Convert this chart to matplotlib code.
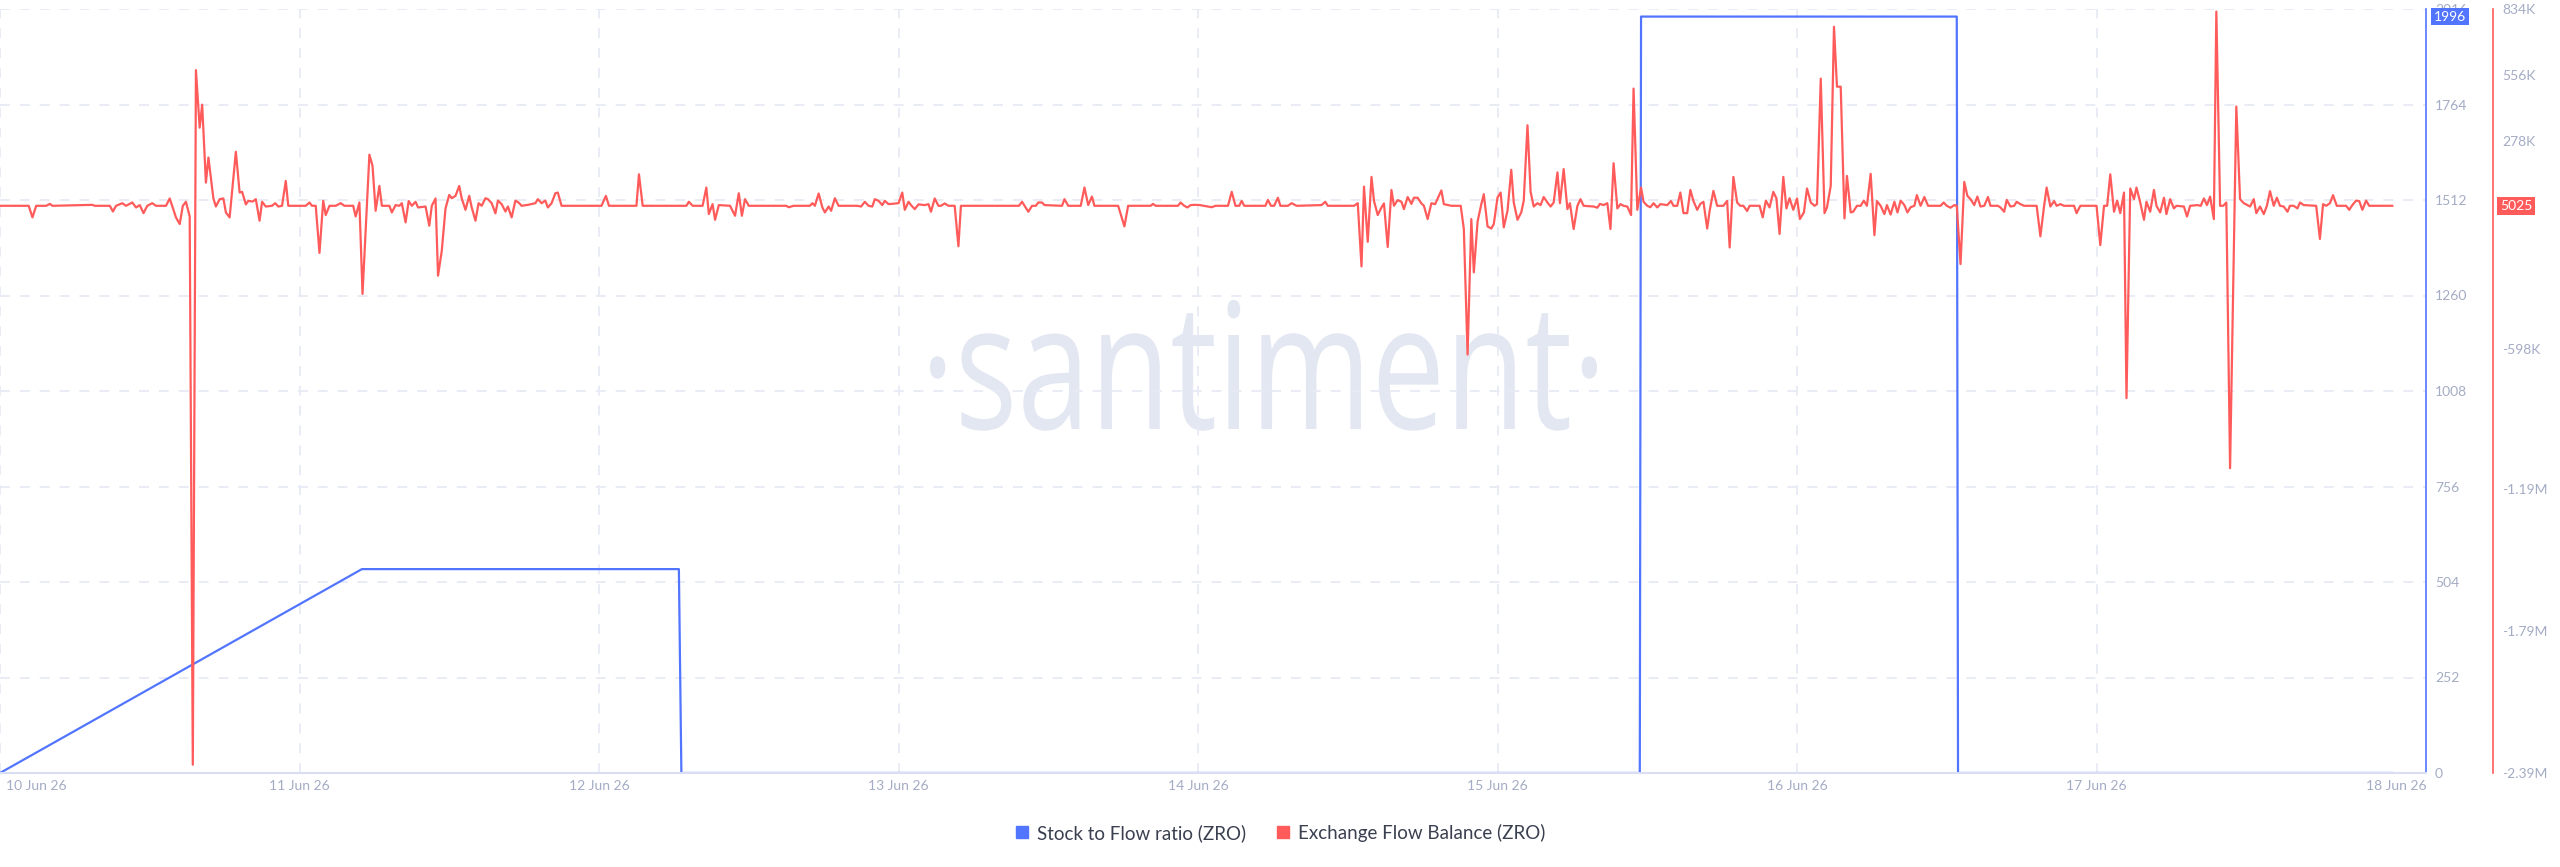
import matplotlib
matplotlib.use("Agg")
import matplotlib.pyplot as plt
from matplotlib.lines import Line2D
from matplotlib.patches import PathPatch
from matplotlib.textpath import TextPath
from matplotlib.font_manager import FontProperties
from matplotlib.transforms import Affine2D, ScaledTranslation, offset_copy

# --- data (x in hours after 10 Jun 26 00:00) ---
day_labels = ['10 Jun 26', '11 Jun 26', '12 Jun 26', '13 Jun 26', '14 Jun 26',
              '15 Jun 26', '16 Jun 26', '17 Jun 26', '18 Jun 26']

blue_ticks = [0, 252, 504, 756, 1008, 1260, 1512, 1764, 2016]
red_ticks = [834, 556, 278, -598, -1190, -1790, -2390]          # thousands
red_tick_labels = ['834K', '556K', '278K', '-598K', '-1.19M', '-1.79M', '-2.39M']

# Stock to Flow ratio (ZRO)
sf_hours = [0, 29.0, 54.4, 54.6, 131.4, 131.5, 156.8, 156.9, 191.7]
sf_values = [0, 538, 538, 0, 0, 1996, 1996, 0, 0]
sf_last = 1996

# Exchange Flow Balance (ZRO), thousands
efb_points = [
    (0.0, 5), (2.3, 5), (2.6, -44), (2.9, 5), (3.7, 5), (4.0, 13), (4.2, 5), (7.4, 9), (7.6, 5),
    (8.8, 5), (9.05, -19), (9.3, 5), (9.8, 16), (10.1, 5), (10.6, 19), (10.9, -2), (11.2, 8),
    (11.5, -26), (11.8, 5), (12.2, 16), (12.5, 5), (13.3, 5), (13.6, 36), (14.1, -44), (14.4, -72),
    (14.65, 5), (14.9, 22), (15.2, -40), (15.45, -2355), (15.7, 578), (16.0, 335), (16.2, 432),
    (16.5, 103), (16.7, 209), (17.1, 36), (17.3, 2), (17.6, 33), (17.9, 36), (18.1, -23), (18.4, -44),
    (18.9, 233), (19.2, 61), (19.4, 64), (19.7, 11), (19.9, 26), (20.25, 23), (20.5, 33), (20.8, -58),
    (21.0, 22), (21.3, 2), (21.8, 5), (22.05, 16), (22.3, 2), (22.6, 5), (22.9, 110), (23.1, 5),
    (24.5, 5), (24.8, 19), (25.0, 5), (25.3, 5), (25.6, -194), (25.9, 26), (26.1, -34), (26.4, 5),
    (26.9, 5), (27.3, 16), (27.6, 5), (28.3, 5), (28.5, -40), (28.8, 19), (29.05, -367), (29.6, 221),
    (29.85, 174), (30.1, -16), (30.4, 89), (30.6, 5), (31.2, 5), (31.4, -23), (31.7, 8), (32.0, 5),
    (32.2, 16), (32.5, -65), (32.75, 25), (33.0, 5), (33.3, 22), (33.5, -2), (34.1, 2), (34.4, -79),
    (34.6, 5), (34.9, 36), (35.1, -290), (35.4, -185), (35.7, -6), (36.0, 51), (36.2, 37), (36.5, 47),
    (36.8, 89), (37.0, 36), (37.3, -12), (37.6, 47), (37.8, -2), (38.1, -58), (38.35, 16), (38.6, 5),
    (38.9, 37), (39.1, 33), (39.4, 16), (39.7, -27), (39.9, 27), (40.2, 12), (40.5, -19), (40.7, 2),
    (41.0, -44), (41.3, 27), (41.55, 19), (41.8, 5), (42.3, 9), (42.9, 16), (43.1, 33), (43.4, 16),
    (43.7, 27), (43.9, -2), (44.2, 16), (44.5, 58), (44.7, 61), (45.0, 5), (48.2, 5),
    (48.55, 47), (48.8, 5), (51.0, 5), (51.2, 138), (51.5, 5), (55.0, 5), (55.2, 22), (55.5, 5),
    (56.3, 5), (56.6, 82), (56.8, -30), (57.1, 12), (57.3, -54), (57.6, 8), (58.5, 5), (58.9, -37),
    (59.2, 58), (59.45, -37), (59.7, 33), (60.0, 5), (63.0, 5), (63.2, -1), (63.6, 5), (64.9, 5),
    (65.1, 16), (65.3, 5), (65.6, 57), (65.9, -2), (66.1, -23), (66.4, 2), (66.6, -16), (66.9, 37),
    (67.2, 5), (68.7, 5), (69.0, 2), (69.3, 22), (69.6, 5), (69.9, 2), (70.1, 33), (70.4, 26),
    (70.7, 8), (70.9, 26), (71.2, 12), (72.0, 16), (72.3, 61), (72.5, -12), (72.8, 22), (73.0, 8),
    (73.3, -9), (73.6, 11), (74.1, 8), (74.4, 12), (74.6, -20), (74.9, 36), (75.2, 5), (75.4, 5),
    (75.7, 15), (76.0, 5), (76.5, 5), (76.8, -166), (77.0, 5), (81.65, 5), (81.9, 22), (82.1, 5),
    (82.4, -20), (82.7, 5), (83.0, 5), (83.2, 19), (83.5, 19), (83.7, 8), (85.1, 5), (85.3, 33),
    (85.6, 5), (86.6, 5), (86.9, 82), (87.2, 8), (87.5, 44), (87.7, 5), (89.6, 5), (90.1, -82),
    (90.4, 5), (92.2, 5), (92.4, 13), (92.6, 5), (94.4, 5), (94.6, 19), (94.9, 5), (95.15, -2),
    (95.4, 8), (95.7, 9),
    (96.15, 8), (97.1, -1), (97.4, 5), (98.4, 5), (98.7, 64), (99.0, 5), (99.3, 5), (99.5, 26),
    (99.7, 5), (101.4, 5), (101.6, 30), (101.85, 5), (102.1, 5), (102.4, 39), (102.6, 5), (103.2, 5),
    (103.5, 16), (103.9, 5), (105.9, 8), (106.2, 22), (106.4, 5), (108.5, 5), (108.8, 16),
    (109.1, -251), (109.3, 86), (109.6, -147), (109.9, 127), (110.1, 26), (110.4, -34), (110.7, -2),
    (110.9, 15), (111.2, -169), (111.5, 72), (111.7, 5), (112.0, 29), (112.3, 22), (112.5, -9),
    (112.8, 42), (113.1, 13), (113.3, 39), (113.6, 39), (113.9, 15), (114.1, 5), (114.4, -51),
    (114.7, 16), (115.0, 12), (115.5, 70), (115.7, 12), (116.3, 5), (117.05, 5), (117.3, -93),
    (117.6, -623), (117.9, -51), (118.1, -276), (118.4, -62), (118.7, 12), (118.9, 54), (119.2, -82),
    (119.5, -91), (119.7, -72), (120.0, 40), (120.25, 61), (120.5, -86), (120.8, -16), (121.1, 157),
    (121.3, 19), (121.6, -54), (121.9, -23), (122.1, 26), (122.4, 345), (122.65, 64), (122.9, 2),
    (123.2, 16), (123.45, 8), (123.7, 42), (124.0, 19), (124.25, 2), (124.5, 19), (124.8, 146),
    (125.0, 16), (125.3, 160), (125.6, -9), (125.8, 16), (126.1, -93), (126.4, 5), (126.65, 33),
    (126.9, 5), (127.7, 2), (128.0, -3), (128.2, 13), (128.5, 8), (128.8, 16), (129.05, -93),
    (129.3, 185), (129.6, -6), (129.85, 12), (130.1, 5), (130.4, 2), (130.7, -34), (130.9, 500),
    (131.2, -12), (131.5, 82), (131.7, 22), (132.0, 5), (132.25, -1), (132.5, 16), (132.8, -2),
    (133.05, 12), (133.6, 8), (133.9, 25), (134.1, 5), (134.4, 5), (134.65, 61), (134.9, -26),
    (135.2, -26), (135.45, 72), (135.7, 25), (136.0, -12), (136.25, 13), (136.5, 22), (136.8, -91),
    (137.0, -15), (137.3, 68), (137.6, 5), (138.1, 5), (138.4, 26), (138.6, -171), (138.9, 127),
    (139.2, 19), (139.45, 5), (139.7, 5), (140.0, -17), (140.2, 5), (141.0, 5), (141.25, -44),
    (141.5, 27), (141.8, -2), (142.1, 64), (142.35, 36), (142.6, -114), (142.9, 127), (143.15, -6),
    (143.4, 37), (143.7, -12), (144.0, 36),
    (144.23, -51), (144.55, -23), (144.8, 78), (145.1, 19), (145.4, 5), (145.6, 12), (145.9, 542),
    (146.2, -26), (146.4, -2), (146.7, 89), (146.96, 761), (147.2, 508), (147.5, 508), (147.8, -48),
    (148.0, 131), (148.3, -23), (148.5, -20), (148.8, 5), (149.1, 5), (149.35, 27), (149.6, 5),
    (149.9, 140), (150.2, -119), (150.4, 25), (150.7, 5), (151.0, -30), (151.2, 8), (151.5, -32),
    (151.8, 22), (152.05, -23), (152.3, 27), (152.6, 8), (152.85, -23), (153.1, -1), (153.4, 5),
    (153.6, 50), (153.9, 5), (154.2, 42), (154.5, 5), (155.5, 5), (155.75, 19), (156.0, 5),
    (156.3, -3), (156.6, 8), (156.8, 5), (157.1, -241), (157.4, 106), (157.65, 47), (157.9, 33),
    (158.2, 8), (158.45, 44), (158.7, 2), (159.0, 5), (159.3, 42), (159.5, 5), (160.1, 5),
    (160.3, -2), (160.6, -20), (160.8, 30), (161.1, 2), (161.4, 5), (161.6, 22), (161.9, 12),
    (162.2, 5), (163.2, 5), (163.5, -124), (163.8, 5), (164.0, 82), (164.3, 2), (164.6, 25),
    (164.8, 5), (165.1, 12), (165.4, 5), (166.2, 5), (166.4, -26), (166.7, 5), (168.0, 5),
    (168.3, -161), (168.6, 5), (168.85, 5), (169.1, 138), (169.4, -20), (169.65, 27), (169.9, -26),
    (170.2, 61), (170.4, -807), (170.7, 78), (171.0, 33), (171.2, 82), (171.5, 19), (171.8, -54),
    (172.0, 22), (172.3, -20), (172.6, 72), (172.8, 5), (173.1, -23), (173.4, 39), (173.6, -30),
    (173.9, 33), (174.2, -6), (174.4, 5), (175.0, 2), (175.25, -40), (175.5, 5), (176.1, 8),
    (176.35, 5), (176.6, 36), (176.85, 8), (177.1, 44), (177.4, -51), (177.6, 825), (177.9, 5),
    (178.15, 5), (178.4, 19), (178.7, -1103), (179.2, 424), (179.5, 33), (179.8, 16), (180.3, 2),
    (180.6, 33), (180.8, -26), (181.1, 2), (181.4, -30), (181.65, 5), (181.9, 67), (182.2, 5),
    (182.45, 39), (182.7, 5), (183.0, 2), (183.3, -20), (183.5, 5), (183.8, 5), (184.1, -6),
    (184.3, 19), (184.6, 8), (185.6, 5), (185.9, -135), (186.15, 12), (186.4, 5), (186.7, 16),
    (186.95, 50), (187.25, 5), (188.0, 5), (188.25, -12), (188.5, 8), (188.8, 27), (189.05, 25),
    (189.3, -12), (189.6, 27), (189.85, 5), (191.7, 5.025),
]
efb_last = '5025'

BLUE = '#5275ff'
RED = '#ff5b5b'
TICK = '#a4acc5'
GRID = '#e8ebf5'

plt.rcParams['font.family'] = ['Lato', 'DejaVu Sans']

W, H, DPI = 2560, 867, 100
fig = plt.figure(figsize=(W / DPI, H / DPI), dpi=DPI)
fig.patch.set_facecolor('white')

# axes box in pixels: left 0, right 2426, top 9, bottom 773
ax = fig.add_axes([0, 1 - 773 / H, 2426 / W, (773 - 9) / H])
ax.patch.set_visible(False)

# watermark
fp = FontProperties(family='Open Sans', weight='normal')
tp = TextPath((0, 0), '\u00b7santiment\u00b7', size=100, prop=fp)
bb = tp.get_extents()
sx = (1597 - 930) / bb.width
sy = 94 / 53.5
wm = PathPatch(tp, fc='#e3e7f1', ec='none', zorder=-5,
               transform=Affine2D().translate(-bb.x0, 0).scale(sx, sy).translate(930, H - 429))
fig.add_artist(wm)

# grid
for d in range(8):
    ax.axvline(d * 24, color=GRID, lw=1.3, ls=(0, (5.5, 5.5)), zorder=0)
for t in blue_ticks[1:]:
    ax.axhline(t, color=GRID, lw=1.3, ls=(0, (5.5, 5.5)), zorder=0)

# blue series
ax.plot(sf_hours, sf_values, color=BLUE, lw=1.6, zorder=2)
ax.set_ylim(0, 2016)
ax.set_xlim(0, 194.4)
ax.set_xticks([d * 24 for d in range(len(day_labels))])
ax.set_xticklabels(day_labels)
ax.tick_params(axis='x', length=0, pad=5, labelcolor=TICK, labelsize=10)
first = ax.get_xticklabels()[0]
first.set_ha('left')
first.set_transform(first.get_transform() + ScaledTranslation(0.06, 0, fig.dpi_scale_trans))

# red series on second axis
ax2 = ax.twinx()
ax2.patch.set_visible(False)
eh = [p[0] for p in efb_points]
ev = [p[1] for p in efb_points]
ax2.plot(eh, ev, color=RED, lw=1.6, zorder=3)
ax2.set_ylim(-2390, 836)
ax2.set_yticks(red_ticks)
ax2.set_yticklabels(red_tick_labels)
ax2.tick_params(axis='y', length=0, pad=6.5, labelcolor=TICK, labelsize=10)
for s in ['top', 'left', 'bottom']:
    ax2.spines[s].set_visible(False)
ax2.spines['right'].set_position(('outward', 67 * 72 / DPI))
ax2.spines['right'].set_color(RED)
ax2.spines['right'].set_linewidth(1.2)

# blue axis ticks on the right (twinx moved them left)
ax.set_yticks(blue_ticks)
ax.yaxis.tick_right()
ax.tick_params(axis='y', which='both', left=False, labelleft=False, right=True, labelright=True,
               length=0, pad=6.5, labelcolor=TICK, labelsize=10)
for s in ['top', 'left']:
    ax.spines[s].set_visible(False)
ax.spines['right'].set_color(BLUE)
ax.spines['right'].set_linewidth(1.2)
ax.spines['bottom'].set_color('#d9def4')
ax.spines['bottom'].set_linewidth(1.5)

# value badges
ax.text(1.0, sf_last, str(sf_last), transform=offset_copy(ax.get_yaxis_transform(), fig, x=8, units='dots'),
        ha='left', va='center', color='white', fontsize=10, clip_on=False, zorder=10,
        bbox=dict(boxstyle='square,pad=0.2', fc=BLUE, ec='none'))
ax2.text(1.0, ev[-1], efb_last, transform=offset_copy(ax2.get_yaxis_transform(), fig, x=74, units='dots'),
         ha='left', va='center', color='white', fontsize=10, clip_on=False, zorder=10,
         bbox=dict(boxstyle='square,pad=0.2', fc=RED, ec='none'))

# legend
handles = [Line2D([], [], marker='s', ls='none', color=BLUE, markersize=8),
           Line2D([], [], marker='s', ls='none', color=RED, markersize=8)]
fig.legend(handles, ['Stock to Flow ratio (ZRO)', 'Exchange Flow Balance (ZRO)'],
           loc='center', bbox_to_anchor=(0.5, 1 - 833 / H), ncol=2, frameon=False,
           fontsize=13.5, handlelength=0.8, handletextpad=0.4, columnspacing=1.6,
           labelcolor='#3a4050')

fig.savefig('out.png', dpi=DPI, facecolor='white')
